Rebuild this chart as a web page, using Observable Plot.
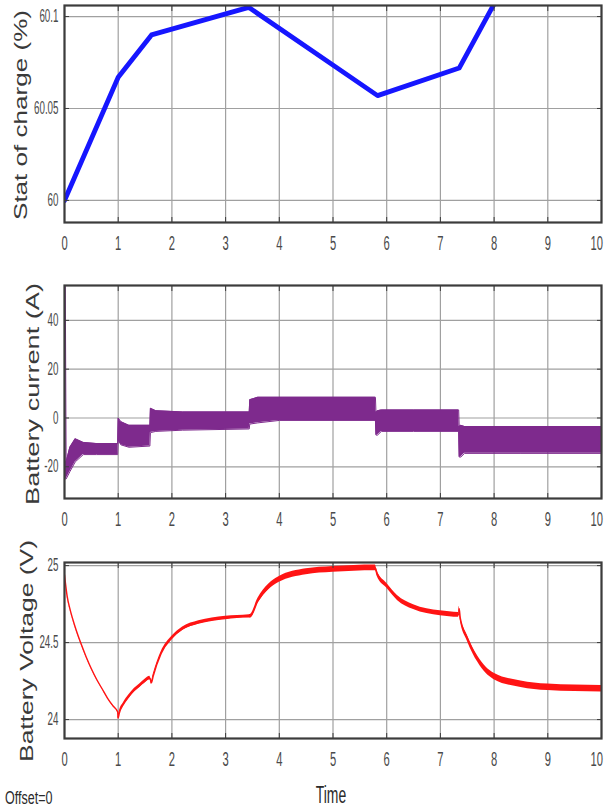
<!DOCTYPE html>
<html>
<head>
<meta charset="utf-8">
<script src="https://cdn.jsdelivr.net/npm/d3@7"></script>
<script src="https://cdn.jsdelivr.net/npm/@observablehq/plot@0.6"></script>
<style>
  html, body { margin: 0; padding: 0; background: #fff; }
  body { width: 609px; height: 810px; position: relative; overflow: hidden;
         font-family: "Liberation Sans", Arial, sans-serif; }
  .panel { position: absolute; left: 0; }
  #labels { position: absolute; left: 0; top: 0; pointer-events: none; }
</style>
</head>
<body>
<div id="chart"></div>
<svg id="labels" width="609" height="810"></svg>
<script>
// ---- shared axis values ----
const timeTicks = [0, 1, 2, 3, 4, 5, 6, 7, 8, 9, 10];
const socTicks = [60, 60.05, 60.1];
const currentTicks = [-20, 0, 20, 40];
const voltageTicks = [24, 24.5, 25];

// ---- state of charge (%) ----
const socT = [0, 1, 1.62, 3.43, 5.83, 7.35, 8.04];
const socV = [60, 60.067, 60.09, 60.105, 60.057, 60.072, 60.109];

// ---- battery current (A): envelope of the switching ripple ----
const curT  = [0, 0.015, 0.03, 0.1, 0.2, 0.35, 0.6, 0.99, 1.0, 1.05, 1.2, 1.59, 1.6, 1.7, 2.2, 3.44, 3.45, 3.6, 4.0, 5.0, 5.79, 5.8, 5.83, 5.9, 6.5, 7.34, 7.35, 7.38, 7.45, 8.5, 10];
const curHi = [54, 54, -18, -12, -8.5, -10, -10.5, -10.5, 0, -1.5, -3, -3, 4, 3, 2.5, 2.5, 7.5, 8.5, 8.5, 8.5, 8.5, 2.5, 3, 3.3, 3.3, 3.3, -3.5, -3, -3.5, -3.5, -3.5];
const curLo = [-25, -25, -25, -22, -18, -15, -15, -15, -9, -11, -12, -11.5, -6, -5.5, -5, -4.5, -2.5, -2, -1, -1, -1, -7, -7, -5.5, -5.5, -5.5, -16, -16, -14.5, -14.5, -14.5];

// ---- battery voltage (V): mean value and ripple half-width ----
const vT = [0, 0.05, 0.1, 0.2, 0.3, 0.4, 0.5, 0.6, 0.7, 0.8, 0.9, 0.99, 1.0, 1.02, 1.1, 1.2, 1.3, 1.4, 1.5, 1.59, 1.62, 1.65, 1.8, 2.0, 2.2, 2.5, 3.0, 3.44, 3.46, 3.6, 3.8, 4.0, 4.5, 5.0, 5.79, 5.82, 6.0, 6.2, 6.5, 7.0, 7.34, 7.35, 7.37, 7.5, 7.7, 8.0, 8.5, 9.0, 10];
const vV = [24.94, 24.8, 24.72, 24.6, 24.5, 24.41, 24.33, 24.26, 24.2, 24.14, 24.09, 24.05, 24.01, 24.04, 24.1, 24.15, 24.19, 24.22, 24.25, 24.27, 24.24, 24.28, 24.43, 24.53, 24.59, 24.63, 24.66, 24.67, 24.67, 24.77, 24.86, 24.91, 24.96, 24.975, 24.985, 24.95, 24.87, 24.79, 24.73, 24.69, 24.68, 24.72, 24.66, 24.53, 24.39, 24.28, 24.23, 24.21, 24.2];
const vR = [0.002, 0.002, 0.002, 0.002, 0.002, 0.002, 0.002, 0.002, 0.002, 0.002, 0.003, 0.004,
            0.008,
            0.011, 0.011, 0.011, 0.011, 0.011, 0.011, 0.011,
            0.011, 0.011, 0.011, 0.011, 0.011, 0.011, 0.011, 0.011,
            0.012, 0.016, 0.018, 0.019, 0.019, 0.019, 0.019,
            0.017, 0.016, 0.016, 0.016, 0.016, 0.016,
            0.016,
            0.017, 0.019, 0.02, 0.021, 0.021, 0.021, 0.021];

const socData = socT.map((t, i) => ({t, v: socV[i]}));
const curData = curT.map((t, i) => ({t, lo: curLo[i], hi: curHi[i]}));
const vData = vT.map((t, i) => ({t, v: vV[i], lo: vV[i] - vR[i], hi: vV[i] + vR[i]}));

const GRID = "#a0a0a0";
const FRAME = "#3c3c3c";
const TICKTXT = "#4a4a4a";

function panel({top, height, marginTop, yDomain, yTicks, yFormat, marks}) {
  const svg = Plot.plot({
    width: 609,
    height,
    marginTop,
    marginBottom: 36,
    marginLeft: 64,
    marginRight: 8,
    style: {background: "#fff", fontFamily: "'Liberation Sans', Arial, sans-serif", color: TICKTXT},
    x: {domain: [0, 10]},
    y: {domain: yDomain},
    marks: [
      Plot.gridX(timeTicks, {stroke: GRID, strokeOpacity: 1, strokeWidth: 1.2}),
      Plot.gridY(yTicks, {stroke: GRID, strokeOpacity: 1, strokeWidth: 1.2}),
      ...marks,
      // inward tick marks on all four sides
      Plot.axisX(timeTicks, {anchor: "bottom", tickSize: -5, tickFormat: () => "", label: null, stroke: FRAME}),
      Plot.axisX(timeTicks, {anchor: "top", tickSize: -5, tickFormat: () => "", label: null, stroke: FRAME}),
      Plot.axisY(yTicks, {anchor: "left", tickSize: -5, tickFormat: () => "", label: null, stroke: FRAME}),
      Plot.axisY(yTicks, {anchor: "right", tickSize: -5, tickFormat: () => "", label: null, stroke: FRAME}),
      // tick labels
      Plot.axisX(timeTicks, {anchor: "bottom", tickSize: 0, tickPadding: 13, label: null, fontSize: 20, fill: TICKTXT}),
      Plot.axisY(yTicks, {anchor: "left", tickSize: 0, tickPadding: 6, label: null, fontSize: 17.5, fill: TICKTXT, tickFormat: yFormat}),
      Plot.frame({stroke: FRAME, strokeWidth: 2.2})
    ]
  });
  svg.classList.add("panel");
  svg.style.top = top + "px";
  document.getElementById("chart").appendChild(svg);
  // narrow the tick label glyphs, keeping the last one inside the page
  svg.querySelectorAll("text").forEach(t => {
    if (!t.textContent) return;
    const w = t.getComputedTextLength();
    t.setAttribute("textLength", (w * 0.56).toFixed(2));
    t.setAttribute("lengthAdjust", "spacingAndGlyphs");
    const b = t.getBoundingClientRect();
    if (b.right > 603) t.setAttribute("dx", (603 - b.right).toFixed(1));
  });
  return svg;
}

// state of charge
panel({
  top: 0, height: 258, marginTop: 5,
  yDomain: [59.988, 60.106], yTicks: socTicks,
  yFormat: d => d === 60 ? "60" : d === 60.1 ? "60.1" : "60.05",
  marks: [
    Plot.line(socData, {x: "t", y: "v", stroke: "#1616ff", strokeWidth: 4.8, clip: true})
  ]
});

// battery current
panel({
  top: 258, height: 276, marginTop: 27,
  yDomain: [-33, 54.3], yTicks: currentTicks,
  yFormat: d => String(d),
  marks: [
    Plot.areaY(curData, {x: "t", y1: "lo", y2: "hi", fill: "#7e2a8d", clip: true}),
    Plot.line(curData, {x: "t", y: "hi", stroke: "#7e2a8d", strokeWidth: 1, clip: true}),
    Plot.line(curData, {x: "t", y: "lo", stroke: "#7e2a8d", strokeWidth: 1, clip: true})
  ]
});

// battery voltage
panel({
  top: 534, height: 240, marginTop: 28,
  yDomain: [23.877, 25.02], yTicks: voltageTicks,
  yFormat: d => d === 24.5 ? "24.5" : String(d),
  marks: [
    Plot.areaY(vData, {x: "t", y1: "lo", y2: "hi", fill: "#ff1414", curve: "monotone-x", clip: true}),
    Plot.line(vData, {x: "t", y: "v", stroke: "#ff1414", strokeWidth: 1.4, curve: "monotone-x", clip: true})
  ]
});

// axis titles and footer text
const labels = d3.select("#labels");
const titleFont = "'Liberation Sans', Arial, sans-serif";
function yTitle(text, bx, cy, len, size) {
  labels.append("text")
    .attr("transform", `translate(${bx},${cy}) scale(0.68,1) rotate(-90)`)
    .attr("text-anchor", "middle")
    .attr("font-family", titleFont)
    .attr("font-size", size)
    .attr("fill", "#3a3a3a")
    .attr("textLength", len)
    .attr("lengthAdjust", "spacingAndGlyphs")
    .text(text);
}
yTitle("Stat of charge (%)", 27, 115, 210, 26);
yTitle("Battery current (A)", 39, 394, 222, 27);
yTitle("Battery Voltage (V)", 33, 651, 222, 26);

labels.append("text")
  .attr("transform", "translate(331,803) scale(0.58,1)")
  .attr("text-anchor", "middle")
  .attr("font-family", titleFont)
  .attr("font-size", 24)
  .attr("fill", "#2a2a2a")
  .text("Time");

labels.append("text")
  .attr("transform", "translate(5,804) scale(0.66,1)")
  .attr("text-anchor", "start")
  .attr("font-family", titleFont)
  .attr("font-size", 19)
  .attr("fill", "#2a2a2a")
  .text("Offset=0");
</script>
</body>
</html>
